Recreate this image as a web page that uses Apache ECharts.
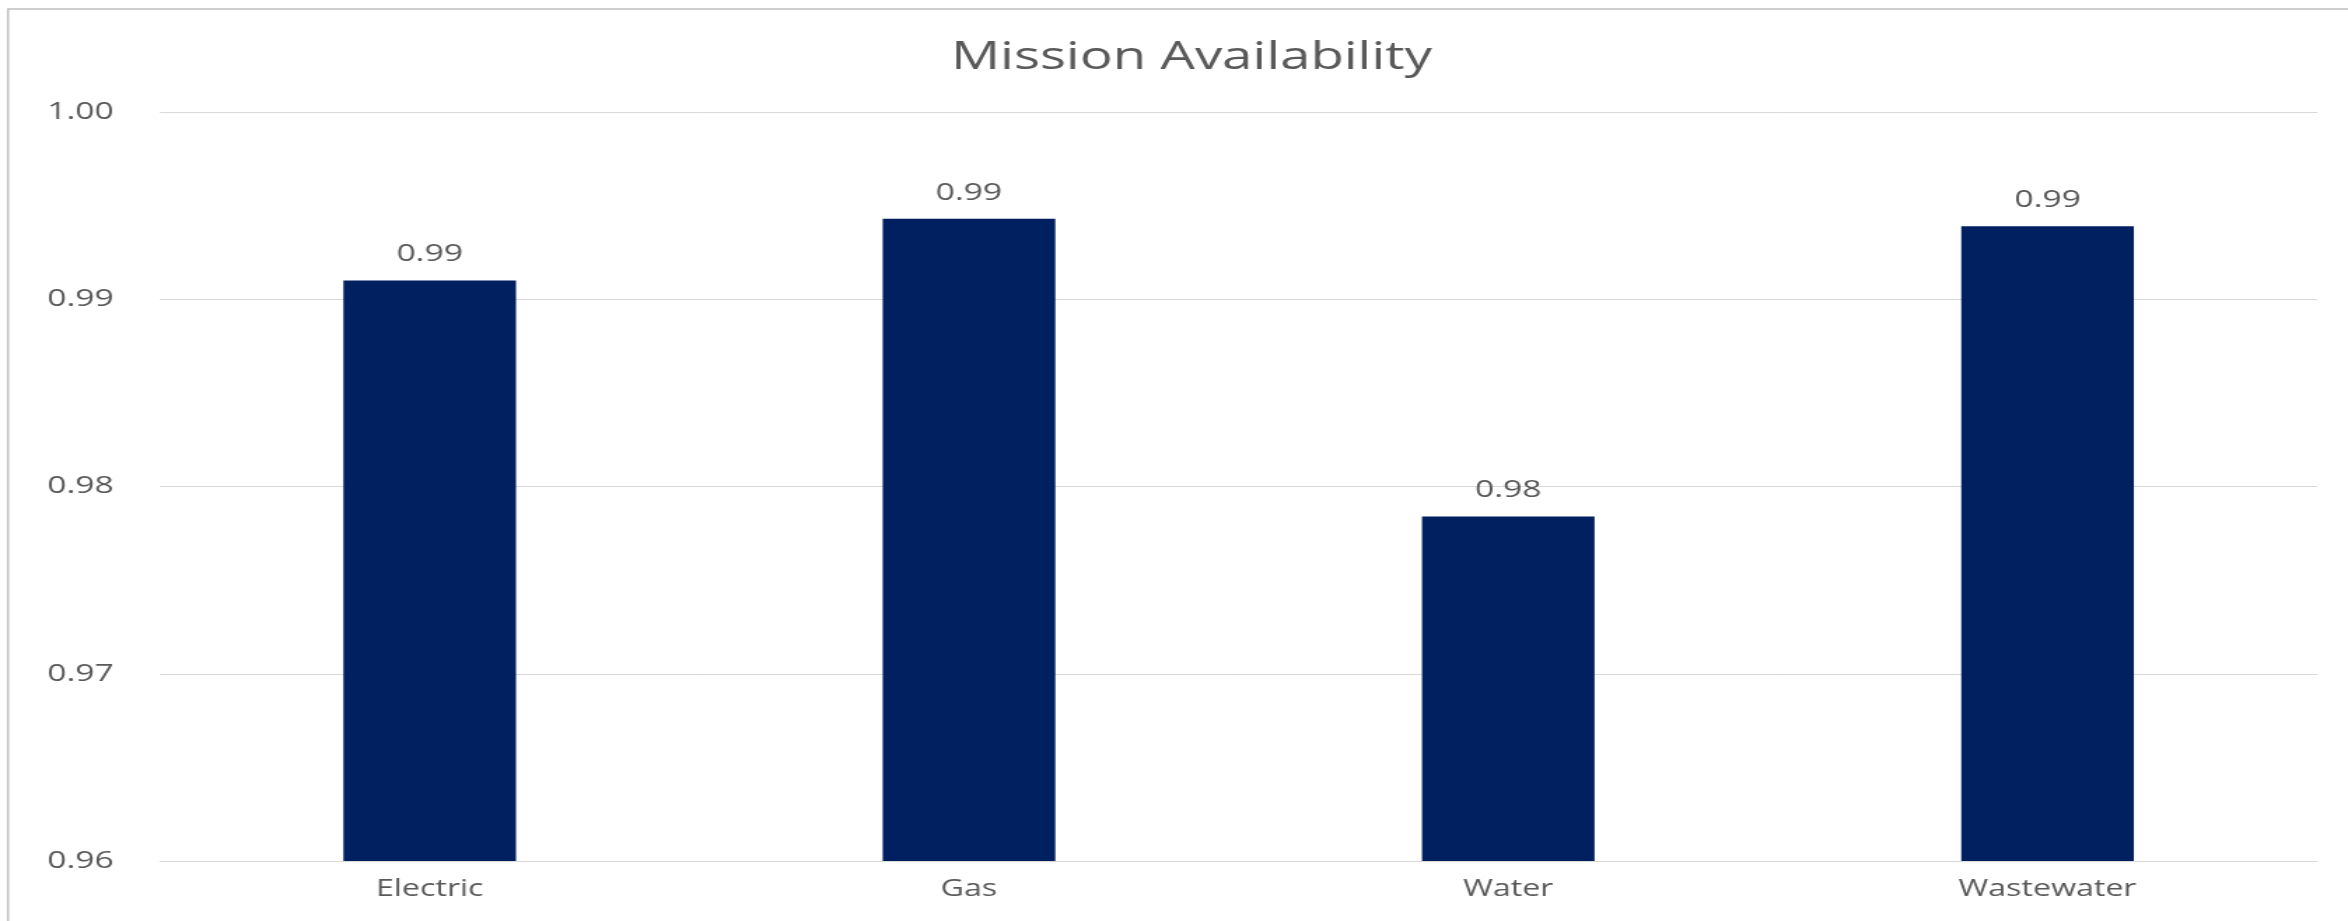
<!DOCTYPE html>
<html>
<head>
<meta charset="utf-8">
<script src="https://cdn.jsdelivr.net/npm/echarts@6/dist/echarts.min.js"></script>
<style>
  html, body { margin: 0; padding: 0; background: #ffffff; overflow: hidden; }
  #wrap { width: 2348px; height: 921px; overflow: hidden; }
  #chart { width: 1677px; height: 921px; transform-origin: 0 0; transform: scaleX(1.40012); }
</style>
</head>
<body>
<div id="wrap"><div id="chart"></div></div>
<script>
const title = 'Mission Availability';
const categories = ['Electric', 'Gas', 'Water', 'Wastewater'];
const values = [0.9910, 0.9943, 0.9784, 0.9939];
const yMin = 0.96, yMax = 1.00, yStep = 0.01;

const textColor = '#595959';
const font = 'Open Sans';
const chart = echarts.init(document.getElementById('chart'));
chart.setOption({
  animation: false,
  backgroundColor: '#ffffff',
  title: {
    text: title, left: 846, textAlign: 'center', top: 33,
    textStyle: { color: textColor, fontFamily: font, fontWeight: 'normal', fontSize: 39 }
  },
  graphic: [{
    type: 'rect', silent: true,
    shape: { x: 5.7, y: 9, width: 1720, height: 940 },
    style: { fill: 'none', stroke: '#BFBFBF', lineWidth: 1.5 }
  }],
  grid: { left: 114.3, right: 22, top: 112, bottom: 60 },
  xAxis: {
    type: 'category', data: categories,
    axisLine: { show: true, lineStyle: { color: '#D9D9D9', width: 1 } },
    axisTick: { show: false },
    axisLabel: { color: textColor, fontFamily: font, fontSize: 23, margin: 17 }
  },
  yAxis: {
    type: 'value', min: yMin, max: yMax, interval: yStep,
    axisLine: { show: false }, axisTick: { show: false },
    splitLine: { lineStyle: { color: '#D9D9D9', width: 1 } },
    axisLabel: { color: textColor, fontFamily: font, fontSize: 24, margin: 33,
      formatter: v => v.toFixed(2) }
  },
  series: [{
    type: 'bar', data: values, barCategoryGap: '68%',
    itemStyle: { color: '#002060' },
    label: { show: true, position: 'top', distance: 14, color: textColor,
      fontFamily: font, fontSize: 24, formatter: p => p.value.toFixed(2) }
  }]
});
</script>
</body>
</html>
